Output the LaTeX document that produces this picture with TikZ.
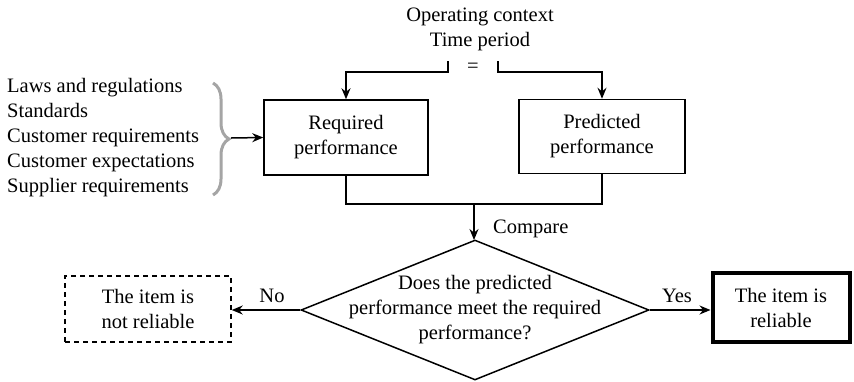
\documentclass[tikz,border=0pt]{standalone}
\usepackage{fontspec}
\setmainfont{Liberation Serif}
\newfontfamily\timesfont{Liberation Serif}
\usetikzlibrary{arrows.meta,shapes.geometric,decorations.pathreplacing}
\definecolor{bracegray}{RGB}{165,165,165}
\begin{document}
\begin{tikzpicture}[x=1pt,y=-1pt,
  every node/.style={font=\timesfont\fontsize{20.5}{25}\selectfont, inner sep=0pt},
  line/.style={line width=1.5pt},
  arr/.style={line width=1.5pt,-{Stealth[length=11pt,width=9pt]}},
  box/.style={draw,line width=1.5pt,minimum width=164pt,minimum height=75pt,align=center},
  txt/.style={align=center}
]
\useasboundingbox (0,0) rectangle (854,381);
% top text
\node[txt] (ctx) at (480,29) {Operating context\\Time period};
\node (eq) at (473,68) {=};
\coordinate (lt) at (448,61);
\coordinate (rt) at (498,61);
% boxes
\node[box] (req) at (346,137.5) {Required\\performance};
\node[box,minimum width=166pt,minimum height=74pt] (pred) at (602,136.5) {Predicted\\performance};
\draw[arr] (lt) -- ++(0,11) -| (req.north);
\draw[arr] (rt) -- ++(0,11) -| (pred.north);
% list
\node[align=left,anchor=west] (list) at (7,138) {Laws and regulations\\Standards\\Customer requirements\\Customer expectations\\Supplier requirements};
\draw[bracegray,line width=3pt,decorate,decoration={brace,amplitude=16pt,raise=0pt}] (213,83) -- (213,195);
\coordinate (bt) at (231,138);
\draw[arr] (bt) -- (req.west);
% compare
\draw[line] (req.south) -- ++(0,28) -| (pred.south);
\coordinate (cmp) at (474,203);
\draw[arr] (cmp) -- (474,240);
\node[anchor=west] (cmplbl) at (493,229) {Compare};
% diamond
\node[draw,shape=diamond,line width=1.5pt,minimum width=348pt,minimum height=140pt] (dia) at (475,310) {};
\node[txt] (diatxt) at (475,310) {Does the predicted\\performance meet the required\\performance?};
% outcomes
\node[box,dashed,dash pattern=on 5pt off 4pt,minimum width=166pt,minimum height=66pt] (nrel) at (148,309) {The item is\\not reliable};
\node[box,line width=4pt,minimum width=137pt,minimum height=69pt] (rel) at (781,307.5) {The item is\\reliable};
\draw[arr] (dia.west) -- (nrel.east |- dia.west);
\draw[arr] (dia.east) -- (rel.west |- dia.east);
\node (no) at (272,296) {No};
\node (yes) at (677,296) {Yes};
\end{tikzpicture}
\end{document}
